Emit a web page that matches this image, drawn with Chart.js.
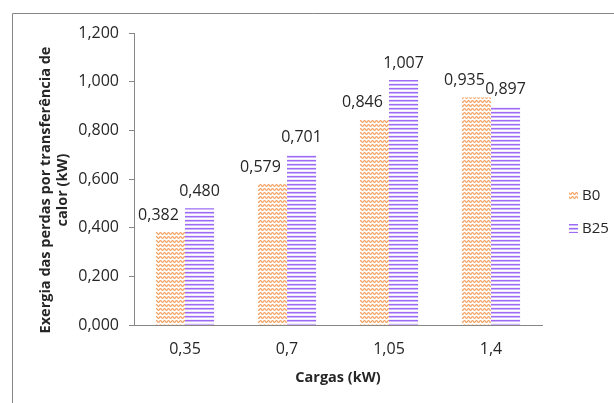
<!DOCTYPE html>
<html><head><meta charset="utf-8">
<script src="https://cdn.jsdelivr.net/npm/chart.js@4"></script>
<style>html,body{margin:0;padding:0;background:#fff}#wrap{width:614px;height:403px}</style>
</head><body><div id="wrap"><canvas id="c" width="614" height="403"></canvas></div>
<script>
const categories = ['0,35', '0,7', '1,05', '1,4'];
const seriesNames = ['B0', 'B25'];
const b0Values = [0.382, 0.579, 0.846, 0.935];
const b25Values = [0.480, 0.701, 1.007, 0.897];
const yMin = 0, yMax = 1.2, yStep = 0.2;
const xTitle = 'Cargas (kW)';
const yTitle = ['Exergia das perdas por transferência de', 'calor (kW)'];

const FONT = '"Open Sans", "Liberation Sans", sans-serif';
const TXT = '#262626';
const AXIS = '#868686';

function fmt(v){ return v.toFixed(3).replace('.', ','); }

function zigzagPattern(){
  const c = document.createElement('canvas'); c.width = 4; c.height = 4;
  const g = c.getContext('2d');
  g.fillStyle = '#fff'; g.fillRect(0,0,4,4);
  g.fillStyle = '#FBD5B6';
  [[1,0],[3,0],[0,1],[2,1],[1,2],[3,2]].forEach(([x,y])=>g.fillRect(x,y,1,1));
  g.fillStyle = '#F4A468';
  [[0,0],[1,1],[2,2],[3,1]].forEach(([x,y])=>g.fillRect(x,y,1,1));
  return g.createPattern(c, 'repeat');
}
function stripePattern(){
  const c = document.createElement('canvas'); c.width = 4; c.height = 4;
  const g = c.getContext('2d');
  g.fillStyle = '#fff'; g.fillRect(0,0,4,4);
  g.fillStyle = '#9C6AF5'; g.fillRect(0,0,4,1);
  g.fillStyle = '#CDB7FA'; g.fillRect(0,1,4,1);
  g.fillStyle = '#F2ECFE'; g.fillRect(0,3,4,1);
  return g.createPattern(c, 'repeat');
}

const labelShift = [-12, 0];

const framePlugin = {
  id: 'frame',
  beforeDraw(chart){
    const ctx = chart.ctx;
    ctx.save();
    ctx.fillStyle = '#fff';
    ctx.fillRect(0,0,chart.width,chart.height);
    ctx.strokeStyle = AXIS; ctx.lineWidth = 1;
    ctx.beginPath();
    ctx.moveTo(12.5, chart.height + 2);
    ctx.lineTo(12.5, 13.5);
    ctx.lineTo(chart.width + 2, 13.5);
    ctx.stroke();
    ctx.restore();
  },
  afterDraw(chart){
    const ctx = chart.ctx;
    ctx.save();
    ctx.font = 'bold 14.5px ' + FONT;
    ctx.fillStyle = TXT;
    ctx.textAlign = 'center'; ctx.textBaseline = 'middle';
    yTitle.forEach((line, i) => {
      ctx.save();
      ctx.translate(46 + i * 17, 190);
      ctx.rotate(-Math.PI / 2);
      ctx.fillText(line, 0, 0);
      ctx.restore();
    });
    ctx.font = '15px ' + FONT;
    ctx.textAlign = 'left';
    chart.data.datasets.forEach((ds, i) => {
      const y = 196 + i * 33;
      ctx.fillStyle = ds.backgroundColor;
      ctx.fillRect(569, y - 5, 9, 9);
      ctx.fillStyle = TXT;
      ctx.fillText(ds.label, 582, y);
    });
    ctx.restore();
  },
  afterDatasetsDraw(chart){
    const ctx = chart.ctx;
    ctx.save();
    ctx.font = '16px ' + FONT;
    ctx.fillStyle = TXT;
    ctx.textAlign = 'center'; ctx.textBaseline = 'middle';
    chart.data.datasets.forEach((ds, i) => {
      const meta = chart.getDatasetMeta(i);
      meta.data.forEach((bar, j) => {
        ctx.fillText(fmt(ds.data[j]), bar.x + labelShift[i], bar.y - 17);
      });
    });
    ctx.restore();
  }
};

new Chart(document.getElementById('c'), {
  type: 'bar',
  data: {
    labels: categories,
    datasets: [
      { label: seriesNames[0], data: b0Values, backgroundColor: zigzagPattern(), borderWidth: 0 },
      { label: seriesNames[1], data: b25Values, backgroundColor: stripePattern(), borderWidth: 0 }
    ]
  },
  options: {
    responsive: false,
    devicePixelRatio: 1,
    animation: false,
    layout: { padding: { left: 0, right: 72, top: 33, bottom: 0 } },
    plugins: { legend: { display: false }, tooltip: { enabled: false } },
    datasets: { bar: { categoryPercentage: 0.57, barPercentage: 1.0 } },
    scales: {
      x: {
        grid: { display: true, drawOnChartArea: false, drawTicks: false, color: AXIS },
        border: { display: true, color: AXIS, width: 1 },
        ticks: { color: TXT, font: { family: FONT, size: 16 }, padding: 15 },
        title: { display: true, text: xTitle, color: TXT, font: { family: FONT, size: 14.5, weight: 'bold' }, padding: { top: 4, bottom: 16 } },
        afterFit(scale){ scale.height = 403 - 325; }
      },
      y: {
        min: yMin, max: yMax,
        grid: { display: true, drawOnChartArea: false, drawTicks: true, tickLength: 5, color: AXIS },
        border: { display: true, color: AXIS, width: 1 },
        ticks: { stepSize: yStep, color: TXT, font: { family: FONT, size: 16 }, padding: 10, callback: v => fmt(v) },
        afterFit(scale){ scale.width = 134; }
      }
    }
  },
  plugins: [framePlugin]
});
</script>
</body></html>
